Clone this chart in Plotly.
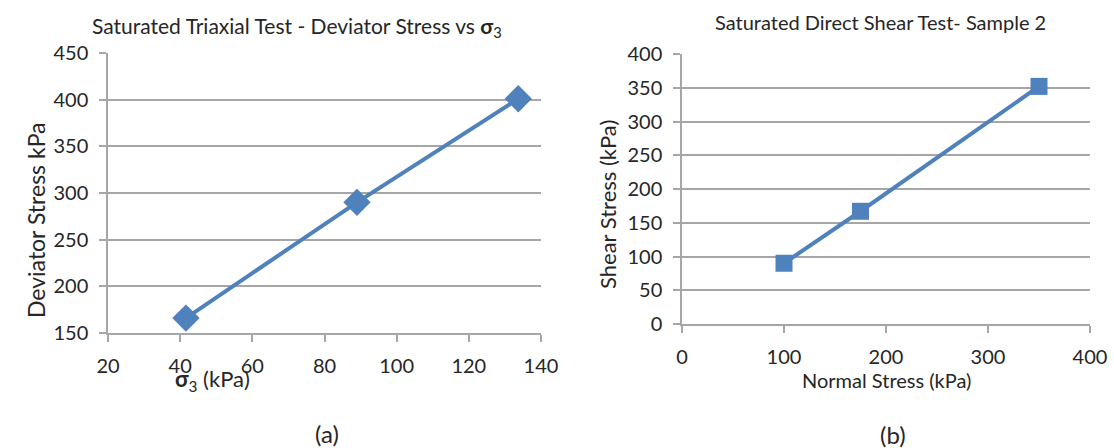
import plotly.graph_objects as go

# Triaxial test: confining pressure vs deviator stress
sigma3_kpa = [41.6, 89.0, 133.7]
deviator_kpa = [166, 290, 401]

# Direct shear test, sample 2
normal_kpa = [100, 175, 350]
shear_kpa = [90, 167, 352]

BLUE = "#4F81BD"
GRID = "#A6A6A6"
TXT = "#262626"
FONT = "Lato"

fig = go.Figure()

fig.add_trace(go.Scatter(
    x=sigma3_kpa, y=deviator_kpa, mode="lines+markers",
    line=dict(color=BLUE, width=4),
    marker=dict(symbol="diamond", size=21, color=BLUE),
    xaxis="x", yaxis="y", showlegend=False, cliponaxis=False,
))
fig.add_trace(go.Scatter(
    x=normal_kpa, y=shear_kpa, mode="lines+markers",
    line=dict(color=BLUE, width=4),
    marker=dict(symbol="square", size=17, color=BLUE),
    xaxis="x2", yaxis="y2", showlegend=False, cliponaxis=False,
))

axis_common = dict(
    showgrid=False, zeroline=False, showline=True, linecolor=GRID, linewidth=1.5,
    ticks="outside", ticklen=7, tickcolor=GRID, tickwidth=1.5, automargin=False,
    ticklabelstandoff=7,
    tickfont=dict(family=FONT, size=20, color=TXT),
)
yaxis_common = dict(axis_common, showgrid=True, gridcolor=GRID, gridwidth=1.5)

fig.update_layout(
    template="none",
    width=1114, height=448,
    margin=dict(l=0, r=0, t=0, b=0, autoexpand=False),
    paper_bgcolor="white", plot_bgcolor="white",
    font=dict(family=FONT, color=TXT),
    xaxis=dict(axis_common, domain=[108/1114, 541/1114], range=[20, 140],
               tickvals=[20, 40, 60, 80, 100, 120, 140], anchor="y"),
    yaxis=dict(yaxis_common, domain=[1-333/448, 1-53/448], range=[150, 450],
               tickvals=[150, 200, 250, 300, 350, 400, 450], anchor="x"),
    xaxis2=dict(axis_common, domain=[682/1114, 1090/1114], range=[0, 400],
                tickvals=[0, 100, 200, 300, 400], anchor="y2"),
    yaxis2=dict(yaxis_common, domain=[1-324/448, 1-54/448], range=[0, 400],
                tickvals=[0, 50, 100, 150, 200, 250, 300, 350, 400], anchor="x2"),
)

notes = [
    dict(text="Saturated Triaxial Test - Deviator Stress vs <b>σ</b><sub>3</sub>", x=297, y=27, size=21),
    dict(text="Saturated Direct Shear Test- Sample 2", x=880, y=22, size=20),
    dict(text="<b>σ</b><sub>3</sub> (kPa)", x=212, y=380, size=22),
    dict(text="Normal Stress (kPa)", x=886, y=380, size=20),
    dict(text="(a)", x=327, y=433, size=24),
    dict(text="(b)", x=893, y=434, size=24),
]
for n in notes:
    fig.add_annotation(text=n["text"], x=n["x"]/1114, y=1-n["y"]/448,
                       xref="paper", yref="paper", showarrow=False,
                       xanchor="center", yanchor="middle",
                       font=dict(family=FONT, size=n["size"], color=TXT))

fig.add_annotation(text="Deviator Stress kPa", x=20/1114, y=1-220/448, textangle=-90,
                   xref="paper", yref="paper", showarrow=False,
                   font=dict(family=FONT, size=23, color=TXT))
fig.add_annotation(text="Shear Stress (kPa)", x=607/1114, y=1-205/448, textangle=-90,
                   xref="paper", yref="paper", showarrow=False,
                   font=dict(family=FONT, size=22, color=TXT))

fig.write_html("out.html")
